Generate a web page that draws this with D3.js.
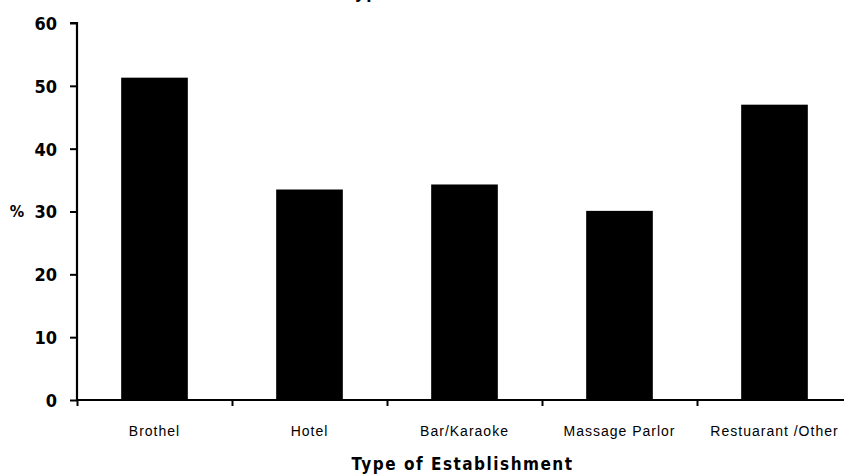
<!DOCTYPE html>
<html>
<head>
<meta charset="utf-8">
<script src="https://cdn.jsdelivr.net/npm/d3@7"></script>
<style>
	body { margin: 0; background: #fff; }
	svg { display: block; }
	.lbl { font-family: "Liberation Sans", Arial, sans-serif; fill: #000; }
	.cond { font-family: "DejaVu Sans Condensed", "DejaVu Sans", sans-serif; font-stretch: condensed; fill: #000; }
</style>
</head>
<body>
<svg id="chart" width="844" height="476"></svg>
<script>
const categories = [ 'Brothel', 'Hotel', 'Bar/Karaoke', 'Massage Parlor', 'Restuarant /Other' ];
const percents = [ 51.3, 33.5, 34.3, 30.1, 47.0 ];
const yTicks = [ 0, 10, 20, 30, 40, 50, 60 ];

const margin = { top: 23, left: 77 };
const plotWidth = 775, plotHeight = 377;

let svg = d3.select('#chart');
let g = svg.append('g')
	.attr('transform', 'translate(' + margin.left + ',' + margin.top + ')');

let xScale = d3.scaleBand()
	.domain(categories)
	.range([ 0, plotWidth ])
	.paddingInner(0.57)
	.paddingOuter(0.285);
let xEdge = d3.scaleLinear()
	.domain([ 0, categories.length ])
	.range([ 0, plotWidth ]);
let yScale = d3.scaleLinear()
	.domain([ 0, 60 ])
	.range([ plotHeight, 0 ]);

// title, cut off at the top edge of the picture
svg.append('text')
	.attr('class', 'cond')
	.attr('x', 456)
	.attr('y', -2)
	.style('text-anchor', 'middle')
	.style('font-size', '17px')
	.style('font-weight', 'bold')
	.style('letter-spacing', '1.5px')
	.text('Type of Establishment');

// bars
g.selectAll('.bar')
	.data(percents)
	.enter().append('rect')
	.attr('class', 'bar')
	.attr('x', function(d, i) { return xScale(categories[i]); })
	.attr('width', xScale.bandwidth())
	.attr('y', function(d) { return yScale(d); })
	.attr('height', function(d) { return plotHeight - yScale(d); })
	.style('fill', '#000');

// y axis
let yAxis = g.append('g')
	.call(d3.axisLeft(yScale).tickValues(yTicks).tickSize(7).tickPadding(13));
yAxis.select('.domain').attr('stroke-width', 2.2).attr('d', 'M-7,0H0V' + plotHeight);
yAxis.selectAll('.tick line').attr('stroke-width', 2);
yAxis.selectAll('.tick text')
	.attr('class', 'cond')
	.style('font-size', '18px')
	.style('font-weight', 'bold')
	.attr('dy', '0.36em');

// x axis with ticks between the categories
let xAxis = g.append('g')
	.attr('transform', 'translate(0,' + plotHeight + ')')
	.call(d3.axisBottom(xEdge).ticks(categories.length).tickSize(6).tickFormat(''));
xAxis.select('.domain').attr('stroke-width', 2.2).attr('d', 'M0,0H' + plotWidth);
xAxis.selectAll('.tick line').attr('stroke-width', 2);

let xLabels = g.append('g')
	.attr('transform', 'translate(0,' + plotHeight + ')')
	.call(d3.axisBottom(xScale).tickSize(0).tickPadding(36));
xLabels.select('.domain').remove();
xLabels.selectAll('.tick text')
	.attr('class', 'lbl')
	.attr('dy', 0)
	.style('font-size', '14px')
	.style('letter-spacing', '1px');

// axis titles
g.append('text')
	.attr('class', 'cond')
	.attr('x', -60)
	.attr('y', yScale(30))
	.attr('dy', '0.36em')
	.style('text-anchor', 'middle')
	.style('font-size', '16px')
	.style('font-weight', 'bold')
	.text('%');

g.append('text')
	.attr('class', 'cond')
	.attr('x', (xScale.range()[1]) / 2 - 2)
	.attr('y', plotHeight + 70)
	.style('text-anchor', 'middle')
	.style('font-size', '17px')
	.style('font-weight', 'bold')
	.style('letter-spacing', '1.5px')
	.text('Type of Establishment');
</script>
</body>
</html>
